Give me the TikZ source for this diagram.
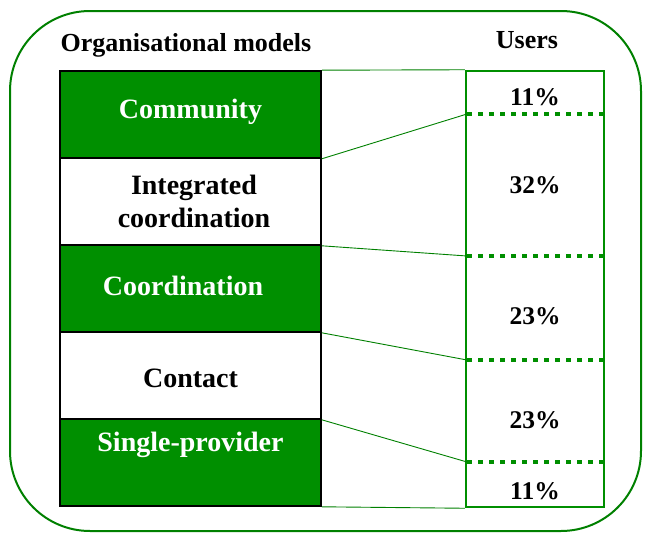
\documentclass[tikz,border=0pt]{standalone}
\usepackage{fontspec}
\setmainfont{Liberation Serif}
\definecolor{dgreen}{RGB}{0,143,0}
\definecolor{lgreen}{RGB}{0,128,0}
\tikzset{
  modelbox/.style={draw=black,line width=1.6pt,minimum width=261pt,minimum height=87pt,inner sep=0pt},
  greenbox/.style={modelbox,fill=dgreen},
  whitebox/.style={modelbox,fill=white},
  wlabel/.style={text=white,font=\bfseries\fontsize{28}{33}\selectfont,align=center,inner sep=0pt},
  blabel/.style={text=black,font=\bfseries\fontsize{28}{33}\selectfont,align=center,inner sep=0pt},
  pct/.style={font=\bfseries\fontsize{25.5}{29}\selectfont,inner sep=0pt},
  head/.style={font=\bfseries\fontsize{26}{30}\selectfont,inner sep=0pt},
  conn/.style={draw=lgreen,line width=0.9pt},
  dotline/.style={draw=dgreen,line width=4pt,dash pattern=on 5pt off 6pt},
}
\begin{document}
\begin{tikzpicture}[x=1pt,y=-1pt]
\useasboundingbox (0,0) rectangle (649,533);
\draw[lgreen,line width=2pt,rounded corners=80pt] (10,11) rectangle (641,531);
\node[head] (hmod) at (186,45) {Organisational models};
\node[head] (husr) at (527,40) {Users};
\node[greenbox] (comm) at (190.5,114.5) {};
\node[whitebox] (integ) at (190.5,201.5) {};
\node[greenbox] (coord) at (190.5,288.5) {};
\node[whitebox] (cont) at (190.5,375.5) {};
\node[greenbox] (single) at (190.5,462.5) {};
\node[wlabel] (tcomm) at (190.5,112) {Community};
\node[blabel] (tinteg) at (194,201) {Integrated\\coordination};
\node[wlabel] (tcoord) at (183,286) {Coordination};
\node[blabel] (tcont) at (190.5,378) {Contact};
\node[wlabel] (tsingle) at (190.5,445) {Single-provider};
\node[draw=dgreen,line width=2.5pt,minimum width=138pt,minimum height=436pt,inner sep=0pt] (users) at (535,289) {};
\coordinate (d1l) at (467,114); \coordinate (d1r) at (603,114);
\coordinate (d2l) at (467,256); \coordinate (d2r) at (603,256);
\coordinate (d3l) at (467,360); \coordinate (d3r) at (603,360);
\coordinate (d4l) at (467,462); \coordinate (d4r) at (603,462);
\draw[dotline] (d1l) -- (d1r);
\draw[dotline] (d2l) -- (d2r);
\draw[dotline] (d3l) -- (d3r);
\draw[dotline] (d4l) -- (d4r);
\draw[conn] (comm.north east) -- (users.north west);
\draw[conn] (comm.south east) -- (d1l);
\draw[conn] (integ.south east) -- (d2l);
\draw[conn] (coord.south east) -- (d3l);
\draw[conn] (cont.south east) -- (d4l);
\draw[conn] (single.south east) -- (users.south west);
\node[pct] (p1) at (535,97) {11\%};
\node[pct] (p2) at (535,185) {32\%};
\node[pct] (p3) at (535,316) {23\%};
\node[pct] (p4) at (535,420) {23\%};
\node[pct] (p5) at (535,491) {11\%};
\end{tikzpicture}
\end{document}
